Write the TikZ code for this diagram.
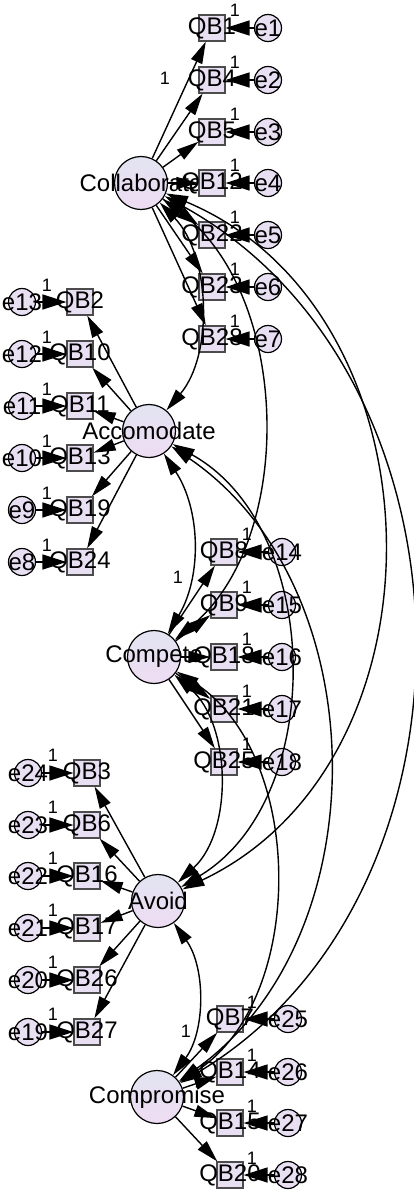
\documentclass[tikz,border=0pt]{standalone}
\usepackage{fontspec}
\setmainfont{Liberation Sans}
\usetikzlibrary{arrows.meta}
\definecolor{lav}{RGB}{233,223,243}
\definecolor{latA}{RGB}{226,228,241}
\definecolor{latB}{RGB}{238,220,243}
\tikzset{
  latent/.style={circle, draw, line width=1.2pt, top color=latA, bottom color=latB,
    minimum size=53pt, inner sep=0pt, label={center:#1}},
  obsbox/.style={rectangle, draw=black!70, line width=1.2pt, fill=lav,
    minimum size=26pt, inner sep=0pt, label={center:#1}},
  errc/.style={circle, draw, line width=1.2pt, fill=lav,
    minimum size=27pt, inner sep=0pt, label={center:#1}},
  one/.style={font=\fontsize{18}{20}\selectfont, inner sep=0pt},
  errarrow/.style={-{Triangle[length=24pt,width=15pt]}},
}
\begin{document}
\begin{tikzpicture}[x=1pt, y=-1pt, >={Triangle[length=22pt,width=12pt]}, line width=1.4pt,
  font=\fontsize{24}{28}\selectfont]
\useasboundingbox (0,0) rectangle (414,1191);
% factors
\node[latent=Collaborate] (coll) at (141,183) {};
\node[latent=Accomodate] (acc) at (149,431) {};
\node[latent=Compete] (comp) at (154,657) {};
\node[latent=Avoid] (avoid) at (158,901) {};
\node[latent=Compromise] (compr) at (157,1097) {};
% indicators, errors on the right
\foreach \y/\q/\e in {28/1/1, 80/4/2, 132/5/3, 183/12/4, 235/22/5, 287/23/6, 339/28/7} {
  \node[obsbox=QB\q] (q\q) at (212,\y) {};
  \node[errc=e\e] (e\e) at (268,\y) {};
  \node[one] (o\e) at (235,{\y-18}) {1};
  \draw[errarrow] (e\e) -- (q\q);
  \draw[->] (coll) -- (q\q);
}
% indicators, errors on the left
\foreach \y/\q/\e in {302/2/13, 354/10/12, 406/11/11, 458/13/10, 510/19/9, 562/24/8} {
  \node[obsbox=QB\q] (q\q) at (80,\y) {};
  \node[errc=e\e] (e\e) at (22,\y) {};
  \node[one] (o\e) at (47,{\y-17}) {1};
  \draw[errarrow] (e\e) -- (q\q);
  \draw[->] (acc) -- (q\q);
}
\foreach \y/\q/\e in {552/8/14, 605/9/15, 657/18/16, 709/21/17, 762/25/18} {
  \node[obsbox=QB\q] (q\q) at (224,\y) {};
  \node[errc=e\e] (e\e) at (282,\y) {};
  \node[one] (o\e) at (247,{\y-18}) {1};
  \draw[errarrow] (e\e) -- (q\q);
  \draw[->] (comp) -- (q\q);
}
\foreach \y/\q/\e in {773/3/24, 825/6/23, 876/16/22, 928/17/21, 980/26/20, 1032/27/19} {
  \node[obsbox=QB\q] (q\q) at (87,\y) {};
  \node[errc=e\e] (e\e) at (28,\y) {};
  \node[one] (o\e) at (53,{\y-18}) {1};
  \draw[errarrow] (e\e) -- (q\q);
  \draw[->] (avoid) -- (q\q);
}
\foreach \y/\q/\e in {1019/7/25, 1072/14/26, 1123/15/27, 1175/20/28} {
  \node[obsbox=QB\q] (q\q) at (230,\y) {};
  \node[errc=e\e] (e\e) at (288,\y) {};
  \node[one] (o\e) at (252,{\y-17}) {1};
  \draw[errarrow] (e\e) -- (q\q);
  \draw[->] (compr) -- (q\q);
}
% fixed loadings
\node[one] (l1) at (165,78) {1};
\node[one] (l3) at (178,577) {1};
\node[one] (l5) at (186,1031) {1};
% covariances
\draw[<->] (coll) to[bend left=42, looseness=0.9] (acc);
\draw[<->] (coll) to[bend left=52, looseness=0.92] (comp);
\draw[<->] (coll) to[bend left=66, looseness=1.11] (avoid);
\draw[<->] (coll) to[bend left=60, looseness=1.06] (compr);
\draw[<->] (acc) to[bend left=32, looseness=0.95] (comp);
\draw[<->] (acc) to[bend left=60, looseness=0.99] (avoid);
\draw[<->] (acc) to[bend left=55, looseness=1.0] (compr);
\draw[<->] (comp) to[bend left=48, looseness=0.93] (avoid);
\draw[<->] (comp) to[bend left=57, looseness=0.95] (compr);
\draw[<->] (avoid) to[bend left=36, looseness=0.92] (compr);
\end{tikzpicture}
\end{document}
